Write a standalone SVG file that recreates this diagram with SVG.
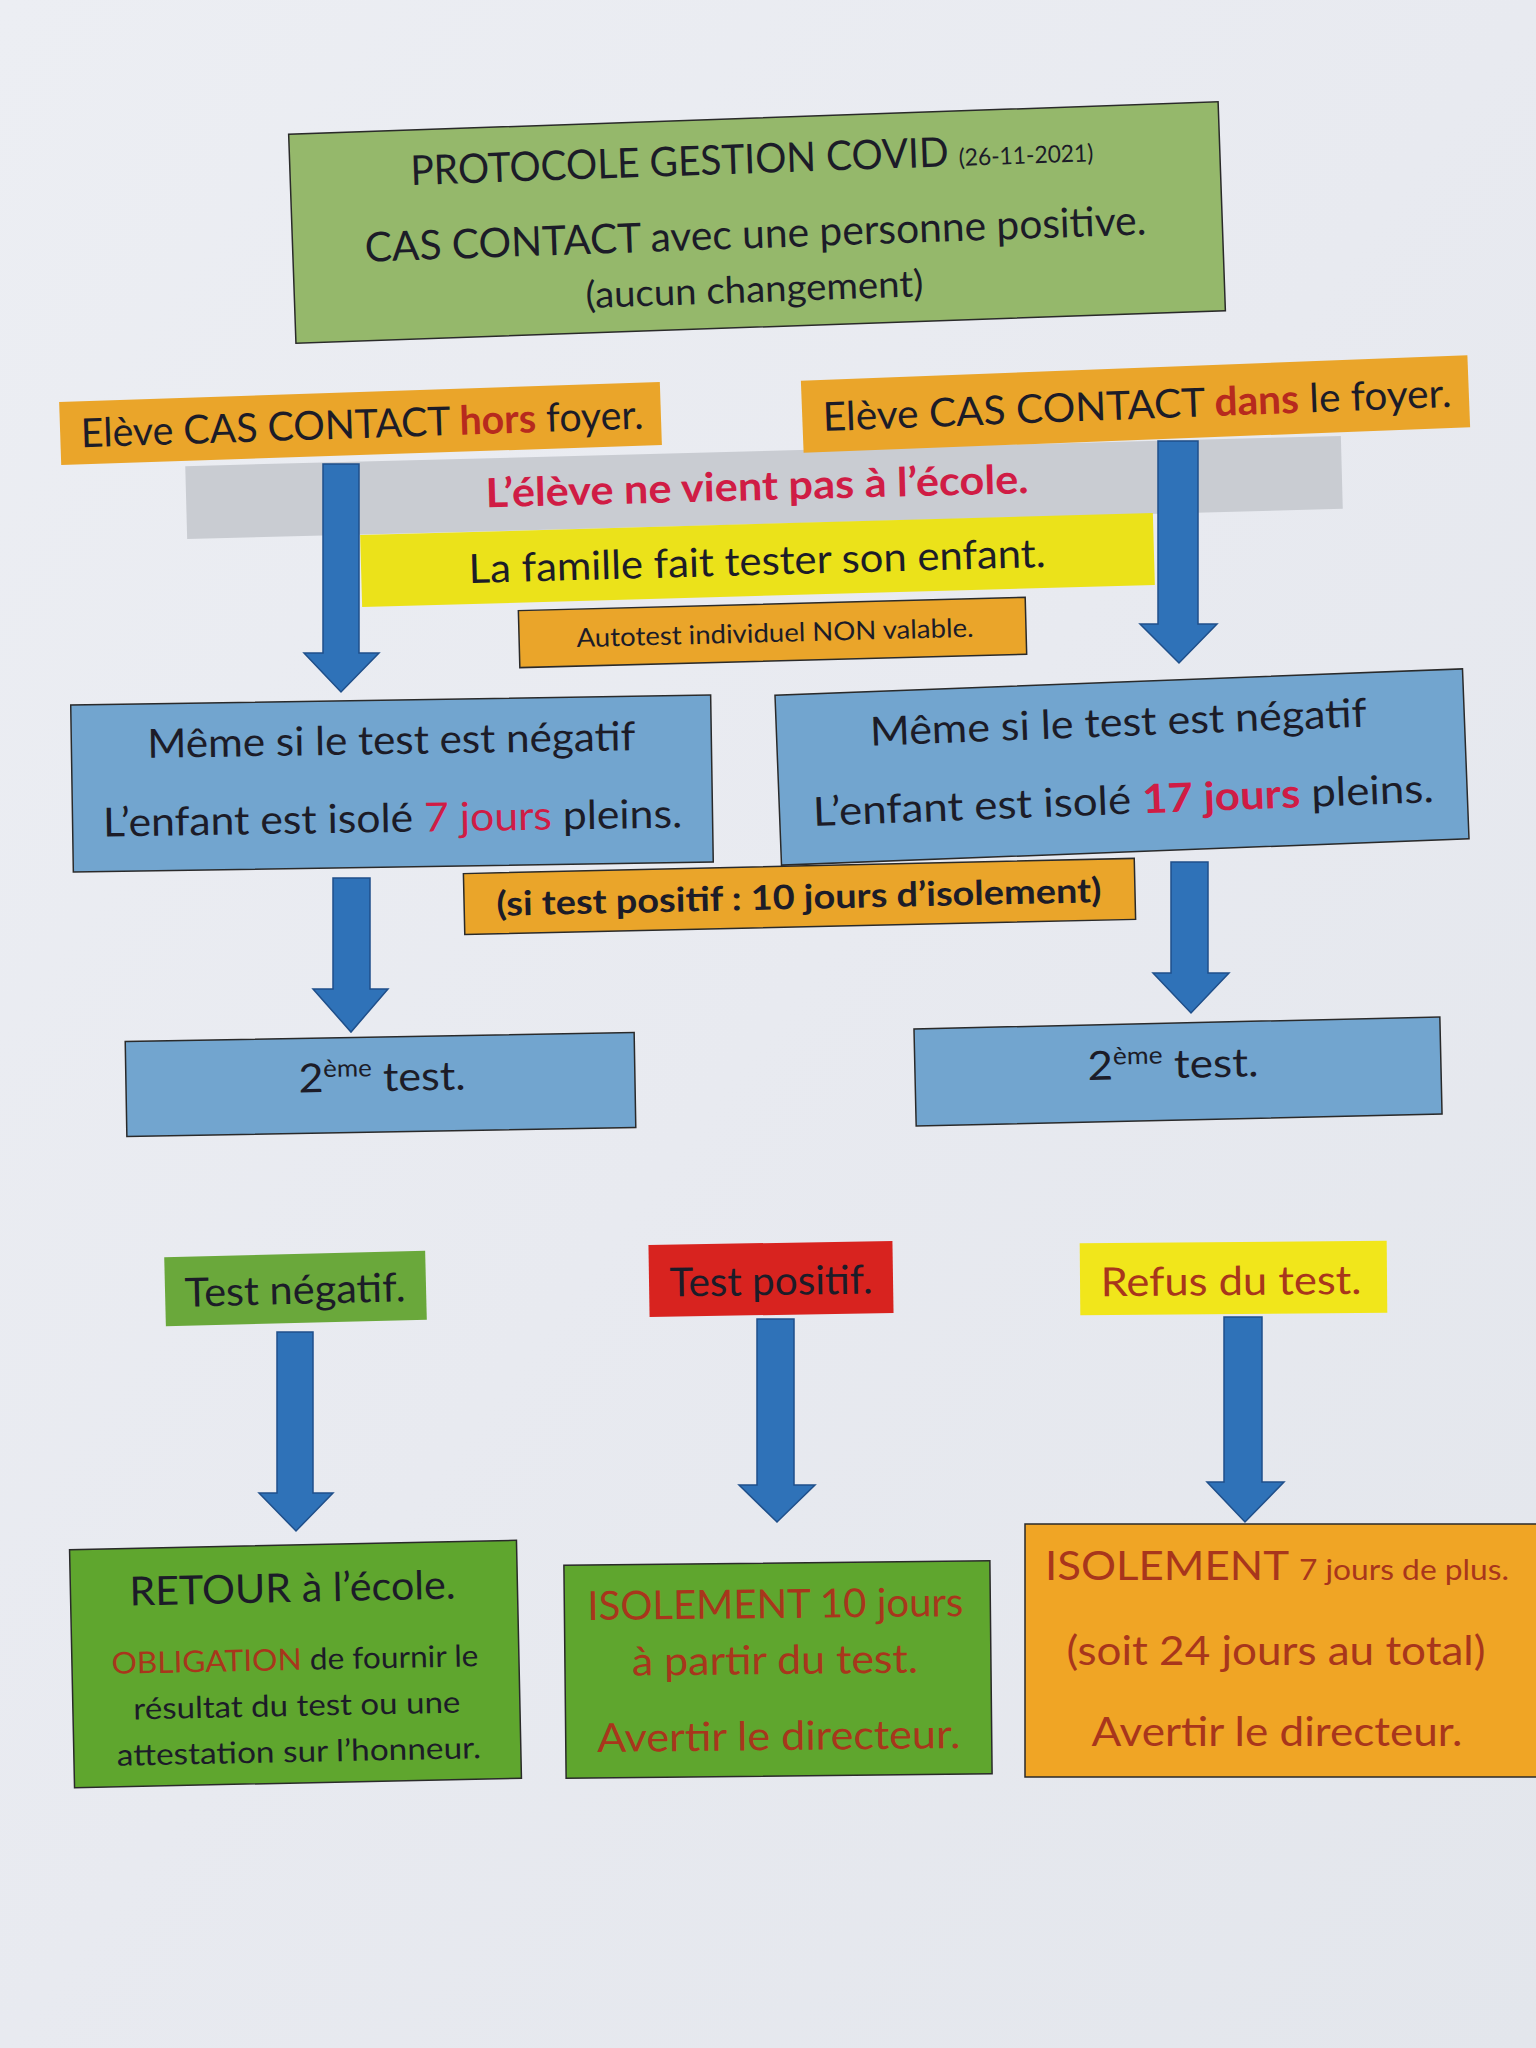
<svg xmlns="http://www.w3.org/2000/svg" width="1536" height="2048" viewBox="0 0 1536 2048">
<defs>
<linearGradient id="bg" x1="0" y1="0" x2="1" y2="1">
<stop offset="0" stop-color="#eceef3"/>
<stop offset="0.5" stop-color="#e8eaf0"/>
<stop offset="1" stop-color="#e3e6ec"/>
</linearGradient>
<style>
text{font-family:Lato,"Open Sans","Liberation Sans",sans-serif;fill:#1c1c28;text-anchor:middle}
.box{stroke:#2a2a2a;stroke-width:1.5}
.green{fill:#95b86b}
.orange{fill:#eaa52a}
.gray{fill:#c9ccd2}
.yellow{fill:#ebe21a}
.blue{fill:#72a5cf}
.tgreen{fill:#6aa83b}
.tred{fill:#d8231f}
.tyellow{fill:#f1e61b}
.bgreen{fill:#5fa62e}
.borange{fill:#f0a525}
.arrow{fill:#2f72b8;stroke:#1f4f8a;stroke-width:1.5}
.t36{font-size:40px}
.red{fill:#b72a1e}
.crim{fill:#d01c45}
.brown{fill:#a8361c}
.bold{font-weight:bold}
</style>
</defs>
<rect width="1536" height="2048" fill="url(#bg)"/>

<g id="title" transform="rotate(-2 757 222)">
<rect class="box green" x="292" y="118" width="930" height="209"/>
<text x="754" y="173" textLength="683" lengthAdjust="spacingAndGlyphs"><tspan font-size="41">PROTOCOLE GESTION COVID </tspan><tspan font-size="24">(26-11-2021)</tspan></text>
<text x="755" y="248" font-size="41" textLength="782" lengthAdjust="spacingAndGlyphs">CAS CONTACT avec une personne positive.</text>
<text x="752" y="302" font-size="37" textLength="338" lengthAdjust="spacingAndGlyphs">(aucun changement)</text>
</g>

<g id="gray-band" transform="rotate(-1.5 764 487)">
<rect class="gray" x="186" y="451" width="1156" height="73"/>
</g>

<g id="hors-foyer" transform="rotate(-1.9 361 423)">
<rect class="orange" x="60" y="392" width="601" height="63"/>
<text x="362" y="438" class="t36" textLength="563" lengthAdjust="spacingAndGlyphs">Elève CAS CONTACT <tspan class="red bold">hors</tspan> foyer.</text>
</g>

<g id="dans-foyer" transform="rotate(-2.2 1136 404)">
<rect class="orange" x="802" y="368" width="667" height="72"/>
<text x="1137" y="419" class="t36" textLength="629" lengthAdjust="spacingAndGlyphs">Elève CAS CONTACT <tspan class="red bold">dans</tspan> le foyer.</text>
</g>

<g id="ne-vient-pas" transform="rotate(-1.5 764 487)">
<text x="757" y="500" class="t36 bold" style="fill:#d01c45" textLength="543" lengthAdjust="spacingAndGlyphs">L’élève ne vient pas à l’école.</text>
</g>

<g id="famille" transform="rotate(-1.6 757 560)">
<rect class="yellow" x="361" y="524" width="793" height="72"/>
<text x="757" y="575" class="t36" textLength="577" lengthAdjust="spacingAndGlyphs">La famille fait tester son enfant.</text>
</g>

<g id="autotest" transform="rotate(-1.5 772 632)">
<rect class="box orange" x="519" y="604" width="507" height="57"/>
<text x="775" y="642" font-size="26" textLength="397" lengthAdjust="spacingAndGlyphs">Autotest individuel NON valable.</text>
</g>

<g id="isole-7" transform="rotate(-0.9 392 784)">
<rect class="box blue" x="72" y="700" width="640" height="167"/>
<text x="392" y="754" class="t36" textLength="488" lengthAdjust="spacingAndGlyphs">Même si le test est négatif</text>
<text x="392" y="832" class="t36" textLength="579" lengthAdjust="spacingAndGlyphs">L’enfant est isolé <tspan class="crim">7 jours</tspan> pleins.</text>
</g>

<g id="isole-17" transform="rotate(-2.2 1122 767)">
<rect class="box blue" x="778" y="682" width="688" height="170"/>
<text x="1120" y="736" class="t36" textLength="497" lengthAdjust="spacingAndGlyphs">Même si le test est négatif</text>
<text x="1122" y="814" class="t36" textLength="621" lengthAdjust="spacingAndGlyphs">L’enfant est isolé <tspan class="crim bold">17 jours</tspan> pleins.</text>
</g>

<g id="si-positif" transform="rotate(-1.3 799 896)">
<rect class="box orange" x="464" y="866" width="671" height="61"/>
<text x="799" y="909" font-size="34" class="bold" textLength="605" lengthAdjust="spacingAndGlyphs">(si test positif : 10 jours d’isolement)</text>
</g>

<g id="test2-left" transform="rotate(-1 380 1084)">
<rect class="box blue" x="126" y="1037" width="509" height="95"/>
<text x="382" y="1091" class="t36" textLength="167" lengthAdjust="spacingAndGlyphs">2<tspan font-size="24" dy="-15">ème</tspan><tspan dy="15"> test.</tspan></text>
</g>

<g id="test2-right" transform="rotate(-1.3 1178 1071)">
<rect class="box blue" x="915" y="1023" width="526" height="97"/>
<text x="1173" y="1078" class="t36" textLength="171" lengthAdjust="spacingAndGlyphs">2<tspan font-size="24" dy="-15">ème</tspan><tspan dy="15"> test.</tspan></text>
</g>

<g id="test-negatif" transform="rotate(-1.4 295 1288)">
<rect class="tgreen" x="165" y="1254" width="261" height="69"/>
<text x="295" y="1304" class="t36" textLength="221" lengthAdjust="spacingAndGlyphs">Test négatif.</text>
</g>

<g id="test-positif" transform="rotate(-0.9 771 1279)">
<rect class="tred" x="649" y="1243" width="244" height="72"/>
<text x="771" y="1295" class="t36" textLength="203" lengthAdjust="spacingAndGlyphs">Test positif.</text>
</g>

<g id="refus" transform="rotate(-0.5 1233 1278)">
<rect class="tyellow" x="1080" y="1242" width="307" height="72"/>
<text x="1231" y="1295" class="t36 brown" textLength="261" lengthAdjust="spacingAndGlyphs">Refus du test.</text>
</g>

<g id="retour" transform="rotate(-1.2 295 1664)">
<rect class="box bgreen" x="72" y="1545" width="447" height="238"/>
<text x="294" y="1602" class="t36" textLength="326" lengthAdjust="spacingAndGlyphs">RETOUR à l’école.</text>
<text x="295" y="1670" font-size="30" textLength="367" lengthAdjust="spacingAndGlyphs"><tspan class="brown">OBLIGATION</tspan> de fournir le</text>
<text x="296" y="1716" font-size="30" textLength="327" lengthAdjust="spacingAndGlyphs">résultat du test ou une</text>
<text x="297" y="1762" font-size="30" textLength="364" lengthAdjust="spacingAndGlyphs">attestation sur l’honneur.</text>
</g>

<g id="isolement-10" transform="rotate(-0.6 778 1669)">
<rect class="box bgreen" x="565" y="1563" width="426" height="213"/>
<text x="776" y="1618" class="t36 brown" textLength="376" lengthAdjust="spacingAndGlyphs">ISOLEMENT 10 jours</text>
<text x="775" y="1674" class="t36 brown" textLength="286" lengthAdjust="spacingAndGlyphs">à partir du test.</text>
<text x="778" y="1750" class="t36 brown" textLength="363" lengthAdjust="spacingAndGlyphs">Avertir le directeur.</text>
</g>

<g id="isolement-7-plus">
<rect class="box borange" x="1025" y="1524" width="516" height="253"/>
<text x="1277" y="1580" class="brown" textLength="464" lengthAdjust="spacingAndGlyphs"><tspan font-size="40">ISOLEMENT </tspan><tspan font-size="29">7 jours de plus.</tspan></text>
<text x="1276" y="1665" class="t36 brown" textLength="419" lengthAdjust="spacingAndGlyphs">(soit 24 jours au total)</text>
<text x="1277" y="1746" class="t36 brown" textLength="371" lengthAdjust="spacingAndGlyphs">Avertir le directeur.</text>
</g>

<g id="connectors">
<polygon class="arrow" points="323,464 359,464 359,653 379,653 341,692 304,653 323,653"/>
<polygon class="arrow" points="1158,441 1198,441 1198,624 1217,624 1179,663 1140,624 1158,624"/>
<polygon class="arrow" points="333,878 370,878 370,989 388,989 351,1032 313,989 333,989"/>
<polygon class="arrow" points="1171,862 1208,862 1208,973 1229,973 1191,1013 1153,973 1171,973"/>
<polygon class="arrow" points="277,1332 313,1332 313,1493 333,1493 296,1531 259,1493 277,1493"/>
<polygon class="arrow" points="757,1319 794,1319 794,1485 815,1485 777,1522 739,1485 757,1485"/>
<polygon class="arrow" points="1224,1317 1262,1317 1262,1482 1284,1482 1245,1522 1207,1482 1224,1482"/>
</g>
</svg>
